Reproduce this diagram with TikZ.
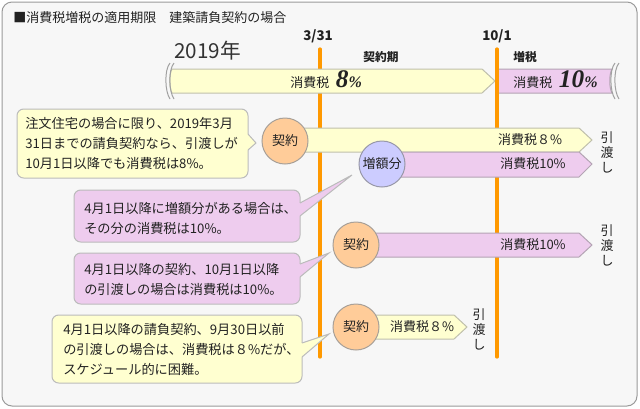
\documentclass[tikz,border=0pt]{standalone}
\usepackage{fontspec}
\setmainfont{Noto Sans CJK JP}
\newfontfamily\serifnum{Liberation Serif}
\definecolor{bgc}{HTML}{F7F7F7}
\definecolor{framec}{HTML}{9A9A9A}
\definecolor{yelc}{HTML}{FFFFD0}
\definecolor{yelline}{HTML}{C0C0AC}
\definecolor{pinkc}{HTML}{EECCEE}
\definecolor{pinkline}{HTML}{B4A4B4}
\definecolor{orangec}{HTML}{FF9900}
\definecolor{circo}{HTML}{FFCC99}
\definecolor{circoline}{HTML}{A8A098}
\definecolor{circp}{HTML}{CCCCFF}
\definecolor{circpline}{HTML}{9898A8}
\definecolor{txtc}{HTML}{222222}
\definecolor{callline}{HTML}{BBBBBB}
\definecolor{wavec}{HTML}{A0A0A0}
\begin{document}
\begin{tikzpicture}[x=0.75pt,y=-0.75pt,
  every node/.style={text=txtc, inner sep=0pt},
  f13/.style={font=\fontsize{9.75}{15}\selectfont},
  bar/.style={line width=0.75pt, line join=miter},
  ybar/.style={bar, fill=yelc, draw=yelline},
  pbar/.style={bar, fill=pinkc, draw=pinkline},
  dot/.style={circle, minimum size=34.5pt, line width=0.75pt, font=\fontsize{9.75}{12}\selectfont},
  odot/.style={dot, fill=circo, draw=circoline},
  pdot/.style={dot, fill=circp, draw=circpline},
  vline/.style={draw=orangec, line width=2.4pt, line cap=round},
  cbox/.style={rounded corners=5pt, line width=0.75pt, draw=callline},
  ycall/.style={cbox, fill=yelc},
  pcall/.style={cbox, fill=pinkc},
  ptr/.style={draw=callline, line width=0.75pt, line join=miter},
  vtext/.style={align=center, font=\fontsize{9.75}{11.25}\selectfont},
  ctext/.style={anchor=west, align=left, font=\fontsize{9.9}{15}\selectfont},
  wave/.style={draw=wavec, line width=0.75pt}
]
\useasboundingbox (0,0) rectangle (640,408);
\draw[rounded corners=7.5pt, fill=bgc, draw=framec, line width=0.75pt] (2,2) rectangle (637,406);

% title and dates
\node[anchor=west, f13] (title) at (13,18) {■消費税増税の適用期限　建築請負契約の場合};
\node[anchor=west, font=\fontsize{15.5}{18}\selectfont, text=black!80] (yr) at (174,51) {2019年};
\node[font=\fontsize{10}{12}\selectfont\bfseries] (d1) at (318,36) {3/31};
\node[font=\fontsize{10}{12}\selectfont\bfseries] (d2) at (497,36) {10/1};
\node[font=\fontsize{8.8}{12}\selectfont\bfseries] (k1) at (381,57) {契約期};
\node[font=\fontsize{8.8}{12}\selectfont\bfseries] (k2) at (525,57) {増税};

% orange lines
\coordinate (l1t) at (320,49); \coordinate (l1b) at (320,357);
\coordinate (l2t) at (497,49); \coordinate (l2b) at (497,357);
\draw[vline] (l1t) -- (l1b);

% top bars
\draw[ybar] (172,69) -- (482,69) -- (495,81) -- (482,93) -- (172,93) .. controls (169,88) and (169,74) .. (172,69) -- cycle;
\draw[wave] (170,63) .. controls (164,70) and (165,92) .. (170,99);
\draw[wave] (174,63) .. controls (168,70) and (169,92) .. (174,99);
\draw[pbar] (498,69) -- (612,69) .. controls (609,74) and (609,88) .. (612,93) -- (498,93) -- cycle;
\draw[wave] (615,63) .. controls (609,70) and (610,92) .. (615,99);
\draw[wave] (619,63) .. controls (613,70) and (614,92) .. (619,99);
\draw[vline] (l2t) -- (l2b);
\node[anchor=base west, font=\fontsize{9.75}{12}\selectfont] (t8) at (290,87)
  {消費税\hspace{5pt}{\serifnum\bfseries\itshape\fontsize{19}{19}\selectfont 8}{\serifnum\bfseries\itshape\fontsize{12}{12}\selectfont\%}};
\node[anchor=base west, font=\fontsize{9.75}{12}\selectfont] (t10) at (513,87)
  {消費税\hspace{5pt}{\serifnum\bfseries\itshape\fontsize{19}{19}\selectfont 10}{\serifnum\bfseries\itshape\fontsize{12}{12}\selectfont\%}};

% row bars
\draw[ybar] (290,128) -- (579,128) -- (592,140) -- (579,152) -- (290,152) -- cycle;
\draw[pbar] (380,152) -- (579,152) -- (592,164) -- (579,177) -- (380,177) -- cycle;
\draw[pbar] (350,233) -- (579,233) -- (592,245) -- (579,257) -- (350,257) -- cycle;
\draw[ybar] (350,315) -- (454,315) -- (467,327) -- (454,339) -- (350,339) -- cycle;

\node[font=\fontsize{9.75}{12}\selectfont] (r1) at (530,140) {消費税８\%};
\node[font=\fontsize{9.75}{12}\selectfont] (r2) at (533,164) {消費税10\%};
\node[font=\fontsize{9.75}{12}\selectfont] (r3) at (533,245) {消費税10\%};
\node[font=\fontsize{9.75}{12}\selectfont] (r4) at (422,327) {消費税８\%};

\node[vtext] (h1) at (607,152) {引\\渡\\し};
\node[vtext] (h3) at (607,245) {引\\渡\\し};
\node[vtext] (h4) at (479,329) {引\\渡\\し};

% circles
\node[odot] (c1) at (285,141) {契約};
\node[pdot] (c2) at (382,164) {増額分};
\node[odot] (c3) at (356,245) {契約};
\node[odot] (c4) at (356,327) {契約};

% callouts
\draw[ycall] (17,109) rectangle (248,178);
\fill[yelc] (246,134) -- (248,134) -- (256,143) -- (248,150) -- (246,150) -- cycle;
\draw[ptr] (248,134) -- (256,143) -- (248,150);
\node[ctext] (n1) at (25,143) {注文住宅の場合に限り、2019年3月\\31日までの請負契約なら、引渡しが\\10月1日以降でも消費税は8\%。};

\draw[pcall] (74,190) rectangle (300,242);
\fill[pinkc] (298,203) -- (300,203) -- (352,175) -- (300,216) -- (298,216) -- cycle;
\draw[ptr] (300,203) -- (352,175) -- (300,216);
\node[ctext] (n2) at (84,218) {4月1日以降に増額分がある場合は、\\その分の消費税は10\%。};

\draw[pcall] (74,253) rectangle (300,304);
\fill[pinkc] (298,264) -- (300,264) -- (329,253) -- (300,277) -- (298,277) -- cycle;
\draw[ptr] (300,264) -- (329,253) -- (300,277);
\node[ctext] (n3) at (84,279) {4月1日以降の契約、10月1日以降\\の引渡しの場合は消費税は10\%。};

\draw[ycall] (52,315) rectangle (302,383);
\fill[yelc] (300,343) -- (302,343) -- (329,334) -- (302,357) -- (300,357) -- cycle;
\draw[ptr] (302,343) -- (329,334) -- (302,357);
\node[ctext] (n4) at (63,349) {4月1日以降の請負契約、9月30日以前\\の引渡しの場合は、消費税は８\%だが、\\スケジュール的に困難。};
\end{tikzpicture}
\end{document}
